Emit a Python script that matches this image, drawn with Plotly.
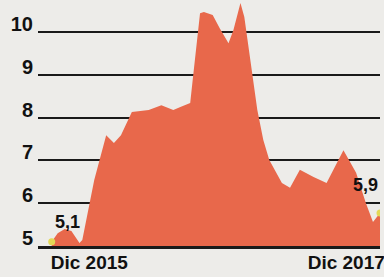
import plotly.graph_objects as go

dates = [
    "2015-08-16", "2015-09-02", "2015-09-22", "2015-10-11", "2015-11-03", "2015-11-11",
    "2015-12-15", "2016-01-18", "2016-02-09", "2016-02-29", "2016-03-31", "2016-05-18",
    "2016-06-23", "2016-07-27", "2016-08-16", "2016-09-13", "2016-09-21", "2016-10-11",
    "2016-10-22", "2016-11-16", "2016-12-06", "2016-12-31", "2017-01-14", "2017-02-03",
    "2017-02-14", "2017-02-28", "2017-03-23", "2017-04-09", "2017-04-26", "2017-06-01",
    "2017-06-24", "2017-07-22", "2017-08-30", "2017-10-06", "2017-11-23", "2017-12-29",
    "2018-01-26", "2018-02-15", "2018-03-07",
]
values = [
    5.10, 5.30, 5.40, 5.35, 5.07, 5.14,
    6.54, 7.59, 7.41, 7.59, 8.13, 8.18,
    8.29, 8.18, 8.25, 8.34, 8.95, 10.44,
    10.47, 10.40, 10.09, 9.74, 10.05, 10.68,
    10.35, 9.51, 8.18, 7.48, 7.01, 6.47,
    6.36, 6.78, 6.61, 6.47, 7.24, 6.71,
    6.00, 5.56, 5.77,
]
x_tickvals = ["2015-12-01", "2017-12-01"]
x_ticktext = ["Dic 2015", "Dic 2017"]
y_tickvals = [5, 6, 7, 8, 9, 10]
start_label = "5,1"
end_label = "5,9"

FONT = "Liberation Sans"
BG = "#EDECE9"
fig = go.Figure()
fig.add_trace(go.Scatter(
    x=dates, y=values, mode="lines", fill="tozeroy",
    line=dict(width=0, color="#E8684B"), fillcolor="#E8684B",
    hoverinfo="skip",
))
fig.add_trace(go.Scatter(
    x=[dates[0], dates[-1]], y=[values[0], values[-1]], mode="markers",
    marker=dict(color="#E3D856", size=7), hoverinfo="skip",
))
fig.add_annotation(x=dates[2], y=values[2], text="<b>%s</b>" % start_label,
                   showarrow=False, yshift=7, xshift=3,
                   font=dict(family=FONT, size=18, color="#111111"))
fig.add_annotation(x=dates[-1], y=values[-1], text="<b>%s</b>" % end_label,
                   showarrow=False, yshift=28, xshift=-15,
                   font=dict(family=FONT, size=18, color="#111111"))
fig.update_layout(
    width=384, height=277,
    margin=dict(l=38, r=0, t=0, b=31),
    paper_bgcolor=BG, plot_bgcolor=BG,
    showlegend=False,
    font=dict(family=FONT, color="#111111"),
)
fig.update_xaxes(
    type="date", range=["2015-07-08", "2018-03-07"],
    tickvals=x_tickvals, ticktext=["<b>%s</b>" % t for t in x_ticktext],
    tickfont=dict(family=FONT, size=19, color="#111111"),
    showgrid=False, zeroline=False, showline=True, linecolor="#1A1A1A", linewidth=3,
    ticks="", ticklabelstandoff=-3, ticklabeloverflow="allow",
)
fig.update_yaxes(
    range=[5, 10.75], tickvals=y_tickvals,
    ticktext=["<b>%d</b>" % v for v in y_tickvals],
    tickfont=dict(family=FONT, size=20, color="#111111"),
    showgrid=True, gridcolor="#1A1A1A", gridwidth=2, zeroline=False,
    ticks="", ticklabelshift=-8, ticklabelstandoff=4,
)
fig.write_html(
    "out.html",
    config={"displayModeBar": False},
    post_script="document.body.style.margin='0';document.body.style.background='%s';" % BG,
)
